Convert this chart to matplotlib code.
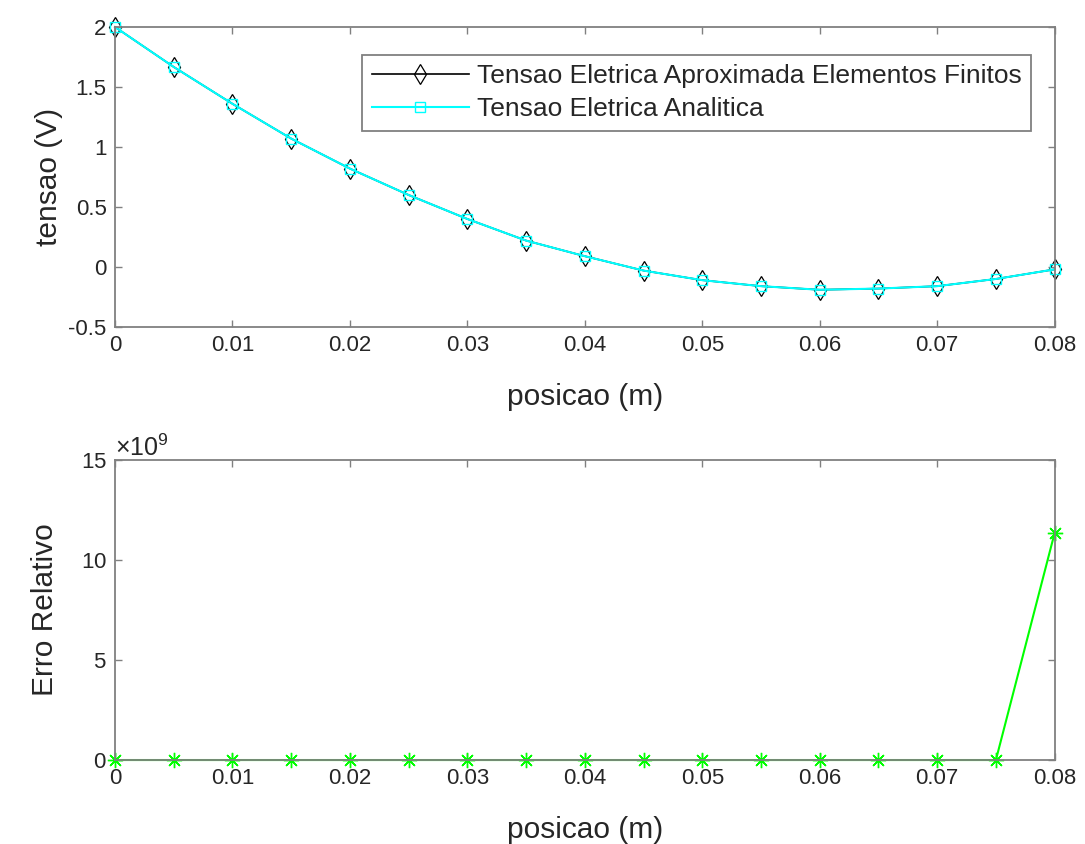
import matplotlib
matplotlib.use("Agg")
import matplotlib.pyplot as plt
from matplotlib.ticker import ScalarFormatter

plt.rcParams['font.family'] = ['Liberation Sans', 'DejaVu Sans']
plt.rcParams['mathtext.fontset'] = 'custom'
plt.rcParams['mathtext.rm'] = 'Liberation Sans'
plt.rcParams['mathtext.it'] = 'Liberation Sans'

# posicao (m)
posicao = [0.0, 0.005, 0.01, 0.015, 0.02, 0.025, 0.03, 0.035, 0.04,
           0.045, 0.05, 0.055, 0.06, 0.065, 0.07, 0.075, 0.08]
# tensao (V), elementos finitos e analitica
tensao_fem = [2.0, 1.667, 1.36, 1.07, 0.82, 0.60, 0.40, 0.22, 0.09,
              -0.03, -0.11, -0.16, -0.19, -0.18, -0.16, -0.10, -0.02]
tensao_analitica = list(tensao_fem)
# erro relativo
erro = [0, 0, 0, 0, 0, 0, 0, 0, 0, 0, 0, 0, 0, 0, 0, 0, 1.135e10]

AX_GRAY = '#808080'
TXT = '#262626'

fig = plt.figure(figsize=(10.85, 8.44), dpi=100)
ax1 = fig.add_axes([0.106, 0.6126, 0.866, 0.3554])
ax2 = fig.add_axes([0.106, 0.0995, 0.866, 0.3555])


def style(ax):
    for s in ax.spines.values():
        s.set_color(AX_GRAY)
        s.set_linewidth(1.3)
    ax.tick_params(direction='in', top=True, right=True, color=AX_GRAY,
                   labelcolor=TXT, labelsize=16, length=5, width=1, pad=6)
    ax.set_xlim(0, 0.08)
    ax.set_xticks([0, 0.01, 0.02, 0.03, 0.04, 0.05, 0.06, 0.07, 0.08])
    ax.set_xticklabels(['0', '0.01', '0.02', '0.03', '0.04', '0.05',
                        '0.06', '0.07', '0.08'])
    ax.set_xlabel('posicao (m)', fontsize=21.5, color=TXT, labelpad=19)


ax1.plot(posicao, tensao_fem, color='black', lw=1.2, marker='d',
         markersize=10, markerfacecolor='none', markeredgewidth=0.9,
         label='Tensao Eletrica Aproximada Elementos Finitos', clip_on=False)
ax1.plot(posicao, tensao_analitica, color='cyan', lw=1.5, marker='s',
         markersize=7, markerfacecolor='none', markeredgewidth=1.0,
         label='Tensao Eletrica Analitica', clip_on=False)
style(ax1)
ax1.set_ylim(-0.5, 2)
ax1.set_yticks([-0.5, 0, 0.5, 1, 1.5, 2])
ax1.set_yticklabels(['-0.5', '0', '0.5', '1', '1.5', '2'])
ax1.set_ylabel('tensao (V)', fontsize=21.5, color=TXT, labelpad=4)
leg = ax1.legend(loc='upper right', bbox_to_anchor=(0.975, 0.907), fontsize=19,
                 fancybox=False, framealpha=1, borderpad=0.35,
                 handlelength=3.7, handletextpad=0.3, labelspacing=0.35,
                 borderaxespad=0)
leg.get_frame().set_edgecolor(AX_GRAY)
leg.get_frame().set_linewidth(1.3)
for t in leg.get_texts():
    t.set_color(TXT)

ax2.plot(posicao, erro, color='#00ff00', lw=1.5, marker=(8, 2, 0),
         markersize=11, markeredgewidth=1.0, clip_on=False)
style(ax2)
ax2.set_ylim(0, 1.5e10)
ax2.set_yticks([0, 0.5e10, 1.0e10, 1.5e10])
fmt = ScalarFormatter(useMathText=True)
fmt.set_powerlimits((9, 9))
ax2.yaxis.set_major_formatter(fmt)
ax2.yaxis.get_offset_text().set_fontsize(18)
ax2.yaxis.get_offset_text().set_color(TXT)
ax2.set_ylabel('Erro Relativo', fontsize=21.5, color=TXT, labelpad=16)

fig.savefig('out.png', dpi=100)
